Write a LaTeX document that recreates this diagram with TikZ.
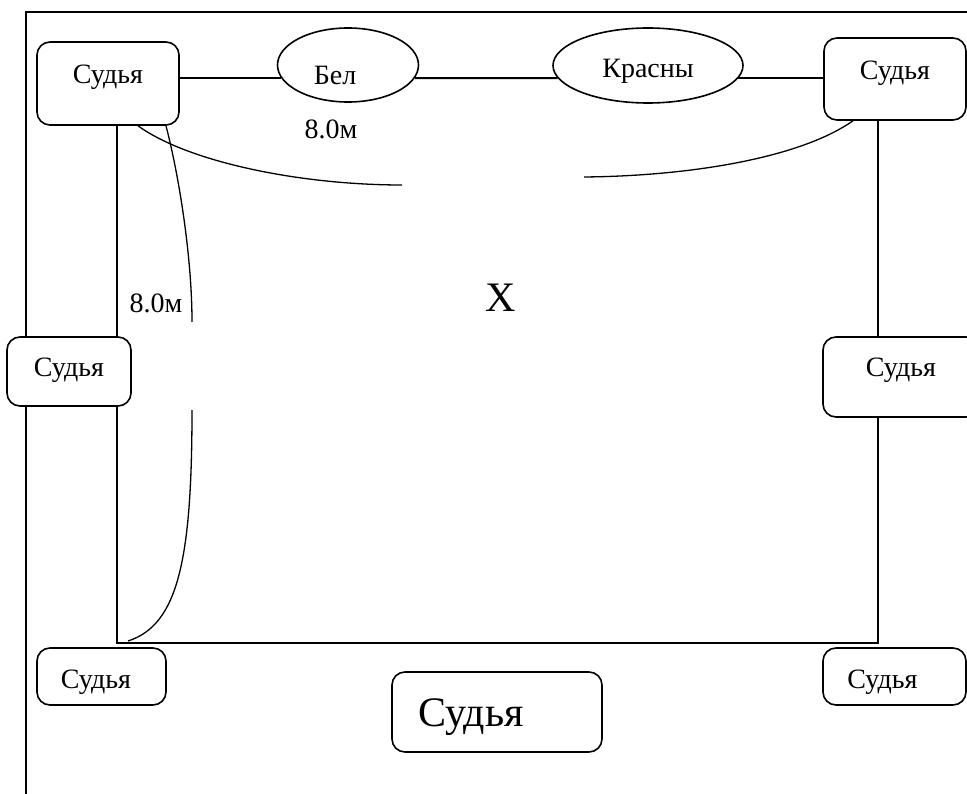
\documentclass[tikz,border=0pt]{standalone}
\usepackage{fontspec}
\setmainfont{Liberation Serif}
\usetikzlibrary{positioning,shapes.geometric}
\tikzset{
  judge/.style={
    draw, line width=1.6pt, rounded corners=13pt, fill=white,
    inner sep=0pt, font=\fontsize{28}{32}\selectfont
  },
  judge big/.style={
    judge, font=\fontsize{42}{48}\selectfont
  },
  team/.style={
    draw, ellipse, line width=1.6pt, fill=white,
    inner sep=0pt, font=\fontsize{28}{32}\selectfont
  },
  field line/.style={
    line width=2pt
  },
  arc line/.style={
    line width=1.3pt
  },
  dist label/.style={
    inner sep=0pt, font=\fontsize{28}{32}\selectfont
  },
}
\begin{document}
\begin{tikzpicture}[x=1pt,y=-1pt]
  \useasboundingbox (0,0) rectangle (967,794);
  % outer frame
  \draw[field line] (26,800) -- (26,12) -- (975,12);

  \coordinate (bl) at (117,643);
  \coordinate (br) at (878,643);

  % judges
  \node[judge, minimum width=142pt, minimum height=83pt, text height=19pt, text depth=19pt]
    (tl) at (108,83.5) {Судья};
  \node[judge, minimum width=142pt, minimum height=82pt, text height=19pt, text depth=18pt]
    (tr) at (895,79) {Судья};
  \node[judge, minimum width=124pt, minimum height=69pt, text height=19pt, text depth=8pt]
    (ml) at (69,371.5) {Судья};
  \node[judge, minimum width=156pt, minimum height=80pt, text height=19pt, text depth=19pt]
    (mr) at (901,377) {Судья};
  \node[judge, minimum width=129pt, minimum height=57pt, text height=23pt, text depth=0pt]
    (bljudge) at (101.5,676.5) {Судья\kern11pt};
  \node[judge, minimum width=143pt, minimum height=57pt, text height=23pt, text depth=0pt]
    (brjudge) at (894.5,676.5) {Судья\kern24pt};
  \node[judge big, minimum width=210pt, minimum height=80pt, text height=28pt, text depth=0pt]
    (bmjudge) at (497,712) {Судья\kern52pt};

  % flags
  \node[team, minimum width=141pt, minimum height=74pt, text height=39pt, text depth=0pt]
    (bel) at (348,65) {Бел\kern26pt};
  \node[team, minimum width=190pt, minimum height=75pt, text height=25pt, text depth=0pt]
    (red) at (648,65.5) {Красны};

  \draw[field line] (tl.east |- bel.191) -- (bel.191);
  \draw[field line] (bel.349) -- (red.188);
  \draw[field line] (red.352) -- (tr.west |- red.352);

  % field
  \draw[field line] (tl.south -| bl) -- (ml.north -| bl);
  \draw[field line] (ml.south -| bl) -- (bl) -- (br) -- (mr.south -| br);
  \draw[field line] (mr.north -| br) -- (tr.south -| br);

  % arcs
  \coordinate (gapL) at (402,185);
  \coordinate (gapR) at (584,177);
  \coordinate (gapTop) at (192,322);
  \coordinate (gapBot) at (192,410);
  \coordinate (arcEnd) at (128,641);
  \draw[arc line] ([xshift=30pt]tl.south) .. controls (188,162) and (300,185) .. (gapL);
  \draw[arc line] ([xshift=-42pt]tr.south) .. controls (800,158) and (690,176) .. (gapR);
  \draw[arc line] ([xshift=58pt]tl.south) .. controls (180,180) and (192,260) .. (gapTop);
  \draw[arc line] (gapBot) .. controls (192,560) and (178,625) .. (arcEnd);

  \node[dist label] (distTop) at (331,129.5) {8.0м};
  \node[dist label] (distSide) at (156,303) {8.0м};
  \node[inner sep=0pt, font=\fontsize{42}{48}\selectfont] (centre) at (501,298) {X};
\end{tikzpicture}
\end{document}
